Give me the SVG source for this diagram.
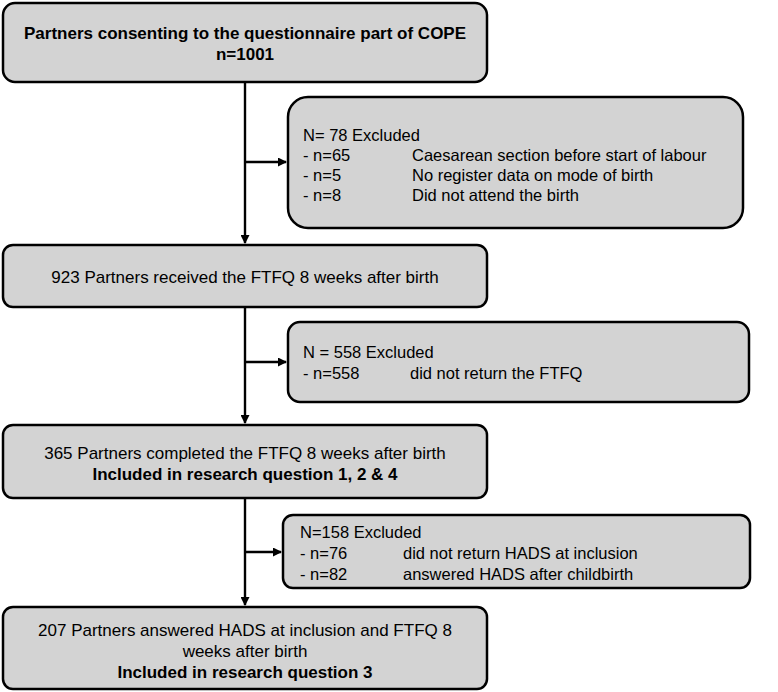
<svg xmlns="http://www.w3.org/2000/svg" width="778" height="692" viewBox="0 0 778 692">
<defs>
<marker id="ah" markerWidth="9" markerHeight="9" refX="8" refY="4.5" orient="auto" markerUnits="userSpaceOnUse">
<path d="M0,0 L9,4.5 L0,9 Z" fill="#000"/>
</marker>
<style>
.box{fill:#d3d3d3;stroke:#000;stroke-width:2.5}
.t{font-family:"Liberation Sans",Arial,sans-serif;font-size:17px;fill:#000}
.s{font-size:16.5px}
.c{text-anchor:middle}
.b{font-weight:bold}
.ln{stroke:#000;stroke-width:2.4;fill:none}
</style>
</defs>
<rect width="778" height="692" fill="#fff"/>
<g id="connectors">
<line class="ln" x1="245" y1="82" x2="245" y2="243" marker-end="url(#ah)"/>
<line class="ln" x1="245" y1="162" x2="286" y2="162" marker-end="url(#ah)"/>
<line class="ln" x1="245" y1="307" x2="245" y2="423" marker-end="url(#ah)"/>
<line class="ln" x1="245" y1="362" x2="286" y2="362" marker-end="url(#ah)"/>
<line class="ln" x1="245" y1="498" x2="245" y2="605" marker-end="url(#ah)"/>
<line class="ln" x1="245" y1="552" x2="281" y2="552" marker-end="url(#ah)"/>
</g>
<g id="n1">
<rect class="box" x="3" y="3" width="484" height="79" rx="12"/>
<text class="t c b" x="245" y="39">Partners consenting to the questionnaire part of COPE</text>
<text class="t c b" x="245" y="60">n=1001</text>
</g>
<g id="n2">
<rect class="box" x="288" y="97" width="455" height="131" rx="20"/>
<text class="t s" x="303" y="141">N= 78 Excluded</text>
<text class="t s" x="303" y="161">- n=65</text>
<text class="t s" x="412" y="161">Caesarean section before start of labour</text>
<text class="t s" x="303" y="181">- n=5</text>
<text class="t s" x="412" y="181">No register data on mode of birth</text>
<text class="t s" x="303" y="201">- n=8</text>
<text class="t s" x="412" y="201">Did not attend the birth</text>
</g>
<g id="n3">
<rect class="box" x="3" y="245" width="484" height="62" rx="10"/>
<text class="t c" x="245" y="283">923 Partners received the FTFQ 8 weeks after birth</text>
</g>
<g id="n4">
<rect class="box" x="288" y="322" width="461" height="80" rx="12"/>
<text class="t s" x="303" y="358">N = 558 Excluded</text>
<text class="t s" x="303" y="379">- n=558</text>
<text class="t s" x="410" y="379">did not return the FTFQ</text>
</g>
<g id="n5">
<rect class="box" x="3" y="425" width="484" height="73" rx="10"/>
<text class="t c" x="245" y="459">365 Partners completed the FTFQ 8 weeks after birth</text>
<text class="t c b" x="245" y="480">Included in research question 1, 2 &amp; 4</text>
</g>
<g id="n6">
<rect class="box" x="283" y="515" width="467" height="73" rx="10"/>
<text class="t s" x="300" y="538">N=158 Excluded</text>
<text class="t s" x="300" y="559">- n=76</text>
<text class="t s" x="403" y="559">did not return HADS at inclusion</text>
<text class="t s" x="300" y="580">- n=82</text>
<text class="t s" x="403" y="580">answered HADS after childbirth</text>
</g>
<g id="n7">
<rect class="box" x="3" y="607" width="484" height="82" rx="10"/>
<text class="t c" x="245" y="636">207 Partners answered HADS at inclusion and FTFQ 8</text>
<text class="t c" x="245" y="657">weeks after birth</text>
<text class="t c b" x="245" y="678">Included in research question 3</text>
</g>
</svg>
